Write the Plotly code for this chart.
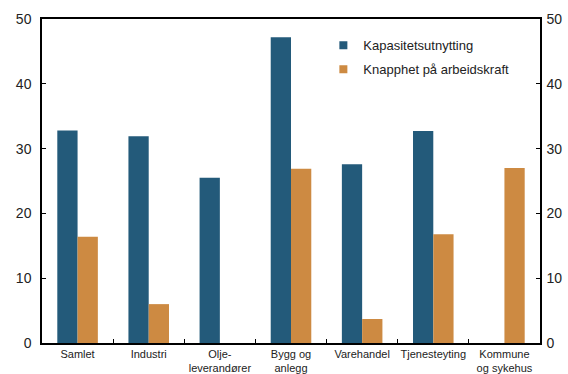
import plotly.graph_objects as go

# Sector labels (line breaks as printed under the axis)
categories = [
    "Samlet",
    "Industri",
    "Olje-<br>leverandører",
    "Bygg og<br>anlegg",
    "Varehandel",
    "Tjenesteyting",
    "Kommune<br>og sykehus",
]

# Share of firms reporting each constraint (per cent)
kapasitet = [32.8, 31.9, 25.5, 47.2, 27.6, 32.7, None]
arbeidskraft = [16.4, 6.0, None, 26.9, 3.7, 16.8, 27.0]

series_names = ["Kapasitetsutnytting", "Knapphet på arbeidskraft"]
colors = ["#235a7a", "#cd8a42"]

y_ticks = [0, 10, 20, 30, 40, 50]

fig = go.Figure()

for name, vals, col in zip(series_names, [kapasitet, arbeidskraft], colors):
    fig.add_trace(go.Bar(
        x=categories, y=vals, name=name,
        marker=dict(color=col, line=dict(width=0)),
        showlegend=False,
    ))

# Small square legend keys
for i, (name, col) in enumerate(zip(series_names, colors)):
    fig.add_trace(go.Scatter(
        x=[None], y=[None], mode="markers", name=name,
        marker=dict(symbol="square", size=8, color=col),
        legendgroup=f"g{i}",
    ))

# Invisible trace carrying the right-hand axis
fig.add_trace(go.Scatter(x=[categories[0]], y=[None], yaxis="y2",
                         showlegend=False, hoverinfo="skip"))

axis_font = dict(family="Liberation Sans, Arial, sans-serif", size=14, color="#222")

fig.update_layout(
    width=568, height=374,
    margin=dict(l=42, r=28, t=19, b=31),
    paper_bgcolor="white", plot_bgcolor="white",
    barmode="group", bargap=0.43, bargroupgap=0,
    font=dict(family="Liberation Sans, Arial, sans-serif", color="#222"),
    xaxis=dict(
        showline=True, linecolor="black", linewidth=1.5, mirror=True,
        ticks="inside", tickson="boundaries", ticklen=4, tickcolor="black",
        tickfont=dict(size=11, color="#222"), tickangle=0,
        showgrid=False, zeroline=False, automargin=False,
    ),
    yaxis=dict(
        range=[0, 50], tickvals=y_ticks,
        showline=True, linecolor="black", linewidth=1.5,
        ticks="inside", ticklen=4, tickcolor="black",
        tickfont=axis_font, ticklabelstandoff=6,
        showgrid=False, zeroline=False, automargin=False,
    ),
    yaxis2=dict(
        range=[0, 50], tickvals=y_ticks, overlaying="y", side="right",
        showline=True, linecolor="black", linewidth=1.5,
        ticks="inside", ticklen=4, tickcolor="black",
        tickfont=axis_font, ticklabelstandoff=2,
        showgrid=False, zeroline=False, automargin=False,
    ),
    legend=dict(
        x=0.565, y=0.965, xanchor="left", yanchor="top",
        bgcolor="rgba(0,0,0,0)", borderwidth=0,
        font=dict(size=13, color="#222"),
        tracegroupgap=4, itemwidth=30,
    ),
)

fig.write_html("out.html")
